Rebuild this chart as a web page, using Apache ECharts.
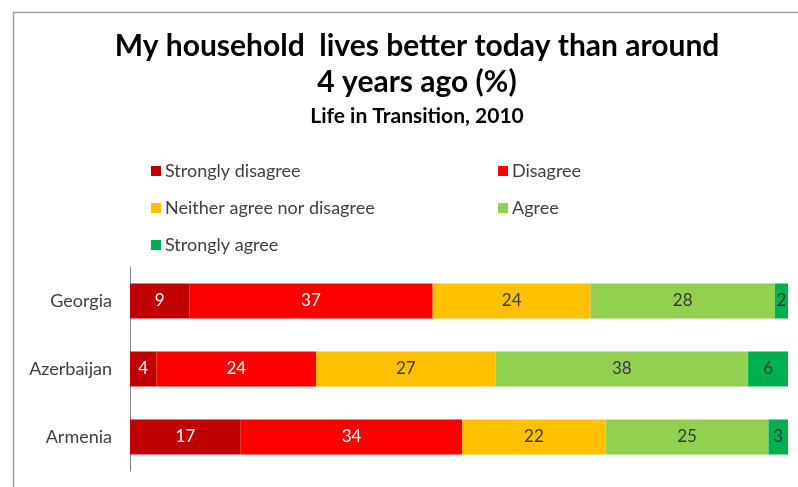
<!DOCTYPE html>
<html>
<head>
<meta charset="utf-8">
<script src="https://cdn.jsdelivr.net/npm/echarts@6/dist/echarts.min.js"></script>
<style>
  html, body { margin: 0; padding: 0; background: #fff; }
  #main { width: 798px; height: 487px; }
</style>
</head>
<body>
<div id="main"></div>
<script>
var countries = ['Georgia', 'Azerbaijan', 'Armenia'];
var seriesNames = ['Strongly disagree', 'Disagree', 'Neither agree nor disagree', 'Agree', 'Strongly agree'];
var stronglyDisagree = [9, 4, 17];
var disagree = [37, 24, 34];
var neither = [24, 27, 22];
var agree = [28, 38, 25];
var stronglyAgree = [2, 6, 3];

var colors = ['#C00000', '#FF0000', '#FFC000', '#92D050', '#00B050'];
var labelColors = ['#fff', '#fff', '#3a3a3a', '#3a3a3a', '#3a3a3a'];
var allData = [stronglyDisagree, disagree, neither, agree, stronglyAgree];

// 100% stacked: each row scaled to its own total
var totals = countries.map(function (c, i) {
    return allData.reduce(function (s, arr) { return s + arr[i]; }, 0);
});

var font = 'Lato';
var myChart = echarts.init(document.getElementById('main'));

var series = allData.map(function (arr, k) {
    return {
        name: seriesNames[k],
        type: 'bar',
        stack: 'total',
        barWidth: 35,
        data: arr.map(function (v, i) { return { value: v / totals[i] * 100, raw: v }; }),
        itemStyle: { color: colors[k] },
        label: {
            show: true,
            position: 'inside',
            color: labelColors[k],
            fontFamily: font,
            fontSize: 17,
            formatter: function (p) { return p.data.raw; }
        }
    };
});

var option = {
    backgroundColor: '#fff',
    animation: false,
    title: [
        {
            text: 'My household  lives better today than around\n4 years ago (%)',
            left: 412, top: 23, textAlign: 'center',
            textStyle: { fontFamily: font, fontSize: 30, fontWeight: 'bold', color: '#000', lineHeight: 36 }
        },
        {
            text: 'Life in Transition, 2010',
            left: 412, top: 101, textAlign: 'center',
            textStyle: { fontFamily: font, fontSize: 21, fontWeight: 'bold', color: '#000' }
        }
    ],
    legend: [
        {
            data: ['Strongly disagree', 'Neither agree nor disagree', 'Strongly agree'],
            orient: 'vertical', left: 146, top: 157,
            itemWidth: 10, itemHeight: 10, itemGap: 19,
            icon: 'rect',
            textStyle: { fontFamily: font, fontSize: 18, color: '#404040', padding: [0, 0, 0, -1] }
        },
        {
            data: ['Disagree', 'Agree'],
            orient: 'vertical', left: 493, top: 157,
            itemWidth: 10, itemHeight: 10, itemGap: 19,
            icon: 'rect',
            textStyle: { fontFamily: font, fontSize: 18, color: '#404040', padding: [0, 0, 0, -1] }
        }
    ],
    graphic: [
        {
            type: 'rect', left: 11, top: 10,
            shape: { width: 900, height: 600 },
            style: { fill: 'none', stroke: '#a0a0a0', lineWidth: 1.5 },
            silent: true
        }
    ],
    grid: { left: 130, right: 10, top: 267, bottom: 16 },
    xAxis: { type: 'value', min: 0, max: 100, show: false },
    yAxis: {
        type: 'category',
        data: countries,
        inverse: true,
        axisLine: { lineStyle: { color: '#888' } },
        axisTick: { show: false },
        axisLabel: { fontFamily: font, fontSize: 18, color: '#404040', margin: 18 }
    },
    series: series
};
myChart.setOption(option);
</script>
</body>
</html>
